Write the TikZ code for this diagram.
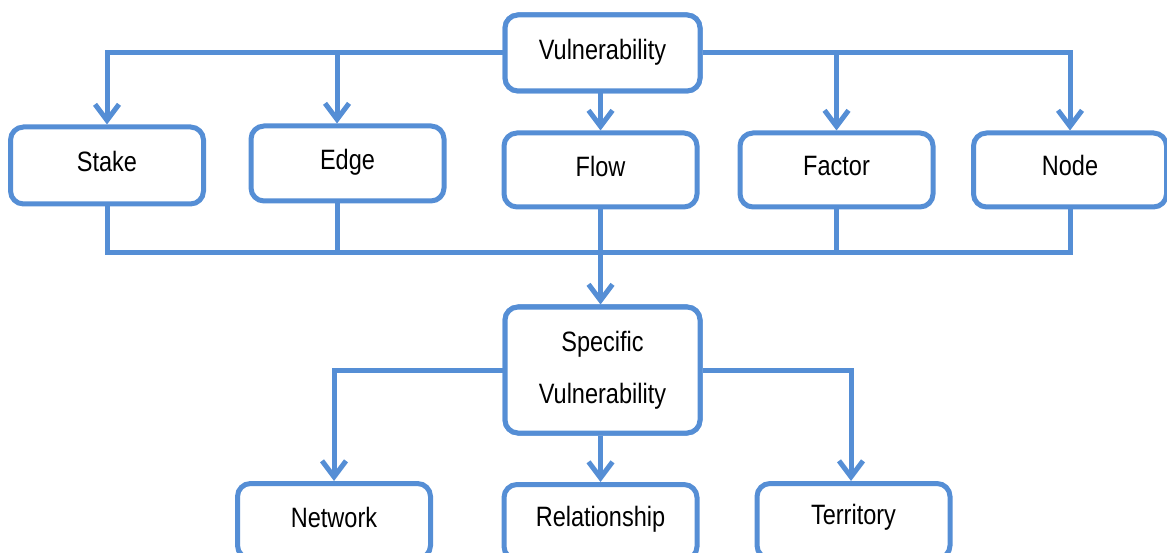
\documentclass[tikz,border=0pt]{standalone}
\usepackage{fontspec}
\setmainfont[FakeStretch=0.84]{Liberation Sans}
\usetikzlibrary{arrows.meta}
\definecolor{linkblue}{RGB}{85,142,213}
% lift single-line labels a little above the box centre
\newcommand\lifted[2][4pt]{\raisebox{#1}[\height][\depth]{#2}}
\tikzset{
  box/.style={draw=linkblue, line width=5pt, rounded corners=13pt, fill=white,
    minimum width=193pt, minimum height=75pt, inner sep=0pt,
    font=\fontsize{28}{52}\selectfont, text=black, align=center},
  link/.style={draw=linkblue, line width=5pt},
  arr/.style={link, -{Straight Barb[length=16pt,width=24pt]}}
}
\begin{document}
\begin{tikzpicture}[x=1pt,y=-1pt]
\useasboundingbox (0,0) rectangle (1167,553);
\clip (0,0) rectangle (1167,553);
% top level
\node[box, minimum width=195pt, minimum height=76pt] (vul) at (602.5,53) {\lifted[1pt]{Vulnerability}};
% second row
\node[box, minimum height=77pt] (stake) at (107,165.5) {\lifted{Stake}};
\node[box] (edge) at (347.5,163.5) {\lifted[1pt]{Edge}};
\node[box, minimum height=74pt] (flow) at (600.5,170) {\lifted{Flow}};
\node[box, minimum height=74pt] (factor) at (836.5,170) {\lifted{Factor}};
\node[box, minimum height=74pt] (nodebox) at (1070,170) {\lifted[5pt]{Node}};
% specific vulnerability
\node[box, minimum width=195pt, minimum height=126pt] (spec) at (602.5,370) {Specific\\Vulnerability};
% bottom row
\node[box] (network) at (334,521) {\lifted{Network}};
\node[box] (rel) at (600.5,522) {\lifted[3pt]{Relationship}};
\node[box] (terr) at (853.5,521) {\lifted{Territory}};
% attachment points that sit off the box centres
\coordinate (bus) at (600.5,253);
\coordinate (edgetop) at ([xshift=-10.5pt]edge.north);
\coordinate (edgebot) at ([xshift=-10.5pt]edge.south);
\coordinate (terrtop) at ([xshift=-2.5pt]terr.north);
% top fan-out
\draw[arr] (vul.west) -| (stake.north);
\draw[arr] (vul.west) -| (edgetop);
\draw[arr] (flow.north |- vul.south) -- (flow.north);
\draw[arr] (vul.east) -| (factor.north);
\draw[arr] (vul.east) -| (nodebox.north);
% collecting bus
\draw[link] (stake.south) |- (bus);
\draw[link] (edgebot) |- (bus);
\draw[link] (factor.south) |- (bus);
\draw[link] (nodebox.south) |- (bus);
\draw[arr] (flow.south) -- (flow.south |- spec.north);
% bottom fan-out
\draw[arr] (spec.west) -| (network.north);
\draw[arr] (rel.north |- spec.south) -- (rel.north);
\draw[arr] (spec.east) -| (terrtop);
% redraw boxes above the connectors
\node[box, minimum width=195pt, minimum height=76pt] at (vul) {\lifted[1pt]{Vulnerability}};
\node[box, minimum width=195pt, minimum height=126pt] at (spec) {Specific\\Vulnerability};
\end{tikzpicture}
\end{document}
